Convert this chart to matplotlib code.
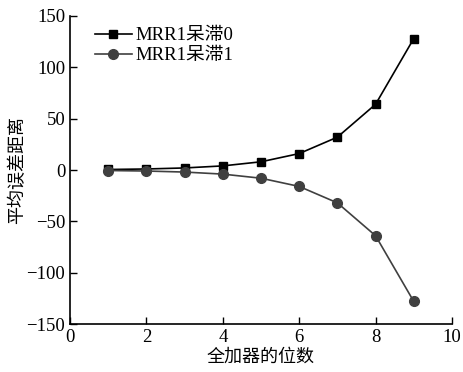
import matplotlib
matplotlib.use('Agg')
import matplotlib.pyplot as plt

plt.rcParams['font.family'] = ['Liberation Serif', 'Noto Sans CJK SC']
plt.rcParams['axes.unicode_minus'] = True

# 数据
bits = [1, 2, 3, 4, 5, 6, 7, 8, 9]
stuck0 = [0.5, 1, 2, 4, 8, 16, 32, 64, 128]
stuck1 = [-0.5, -1, -2, -4, -8, -16, -32, -64, -128]
labels = ['MRR1呆滞0', 'MRR1呆滞1']

fig = plt.figure(figsize=(4.64, 3.72), dpi=100)
ax = fig.add_axes([0.151, 0.129, 0.823, 0.828])

ax.plot(bits, stuck0, color='black', marker='s', markersize=6, linewidth=1.2, label=labels[0])
ax.plot(bits, stuck1, color='#404040', marker='o', markersize=7, linewidth=1.2, label=labels[1])

ax.set_xlim(0, 10)
ax.set_ylim(-150, 150)
ax.set_xticks([0, 2, 4, 6, 8, 10])
ax.set_yticks([-150, -100, -50, 0, 50, 100, 150])
ax.tick_params(direction='in', labelsize=13.5, length=5, width=1)
ax.spines['top'].set_visible(False)
ax.spines['right'].set_visible(False)
ax.spines['left'].set_linewidth(1.2)
ax.spines['bottom'].set_linewidth(1.2)

ax.set_xlabel('全加器的位数', fontsize=13, labelpad=2)
ax.set_ylabel('平均误差距离', fontsize=13, labelpad=0)

ax.legend(loc='upper left', bbox_to_anchor=(0.035, 1.0), frameon=False, fontsize=13.5,
          handlelength=2.0, handletextpad=0.2, labelspacing=0.15, borderaxespad=0.2)

fig.savefig('out.png', dpi=100)
